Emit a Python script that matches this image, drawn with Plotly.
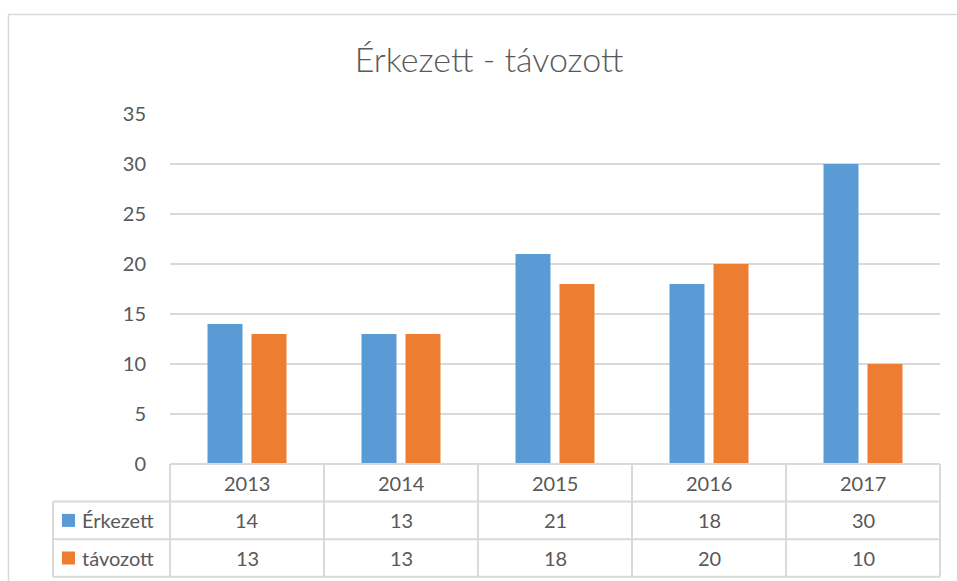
import plotly.graph_objects as go

years = ["2013", "2014", "2015", "2016", "2017"]
erkezett = [14, 13, 21, 18, 30]
tavozott = [13, 13, 18, 20, 10]
series_names = ["Érkezett", "távozott"]
colors = ["#5B9BD5", "#ED7D31"]
title_text = "Érkezett - távozott"

W, H = 957, 581
L, R, T, B = 170, 17, 114, 117
pw, ph = W - L - R, H - T - B
grid = "#D9D9D9"
txt = "#595959"
FONT = "Lato"
FS = 20

fig = go.Figure()
for name, vals, col in zip(series_names, [erkezett, tavozott], colors):
    fig.add_trace(go.Bar(x=years, y=vals, name=name, marker=dict(color=col, line=dict(width=0)),
                         showlegend=False))

# table geometry (paper coords)
row_h = 37.6 / ph
left_x = (53 - L) / pw
n = len(years)
shapes = []
line = dict(color=grid, width=2)
shapes.append(dict(type="line", xref="paper", yref="paper", x0=0, x1=1, y0=0, y1=0, line=line))
for k in (1, 2, 3):
    shapes.append(dict(type="line", xref="paper", yref="paper", x0=left_x, x1=1,
                       y0=-k * row_h, y1=-k * row_h, line=line))
shapes.append(dict(type="line", xref="paper", yref="paper", x0=left_x, x1=left_x,
                   y0=-row_h, y1=-3 * row_h, line=line))
for i in range(n + 1):
    xp = i / n
    shapes.append(dict(type="line", xref="paper", yref="paper", x0=xp, x1=xp,
                       y0=0, y1=-3 * row_h, line=line))
# outer chart border
shapes.append(dict(type="rect", xref="paper", yref="paper",
                   x0=(8.5 - L) / pw, x1=(975 - L) / pw, y0=-(600 - T - ph) / ph, y1=(H - B - 14.5) / ph,
                   line=dict(color="#D9D9D9", width=1.5), layer="below"))

font = dict(size=FS, color=txt, family=FONT)
annotations = []
for i, yv in enumerate(years):
    annotations.append(dict(x=(i + 0.5) / n, y=-0.5 * row_h, xref="paper", yref="paper",
                            xanchor="center", yanchor="middle",
                            text=yv, showarrow=False, font=font))
for r, (name, vals, col) in enumerate(zip(series_names, [erkezett, tavozott], colors)):
    yc = -(r + 1.5) * row_h
    for i, v in enumerate(vals):
        annotations.append(dict(x=(i + 0.5) / n, y=yc, xref="paper", yref="paper",
                                xanchor="center", yanchor="middle",
                                text=str(v), showarrow=False, font=font))
    annotations.append(dict(x=(80 - L) / pw, y=yc, xref="paper", yref="paper",
                            xanchor="left", yanchor="middle",
                            text=name, showarrow=False, font=font))
    shapes.append(dict(type="rect", xref="paper", yref="paper",
                       x0=(62 - L) / pw, x1=(75 - L) / pw, y0=yc - 6.5 / ph, y1=yc + 6.5 / ph,
                       fillcolor=col, line=dict(width=0)))

fig.update_layout(
    width=W, height=H,
    margin=dict(l=L, r=R, t=T, b=B),
    paper_bgcolor="white", plot_bgcolor="white",
    barmode="group", bargap=0.4286, bargroupgap=0.205,
    title=dict(text=title_text, x=489 / W, xref="container", xanchor="center",
               y=1 - 60 / H, yref="container", yanchor="middle",
               font=dict(size=34, color=txt, family=FONT, weight=300)),
    xaxis=dict(showticklabels=False, showgrid=False, zeroline=False, showline=False, ticks=""),
    yaxis=dict(range=[0, 35], dtick=5, showgrid=True, gridcolor=grid, gridwidth=1.5,
               zeroline=False, showline=False, ticks="", ticklabelstandoff=23,
               tickfont=font),
    shapes=shapes, annotations=annotations,
)
fig.write_html("out.html", config={"displayModeBar": False},
               post_script="document.body.style.margin='0';document.body.style.overflow='hidden';")
